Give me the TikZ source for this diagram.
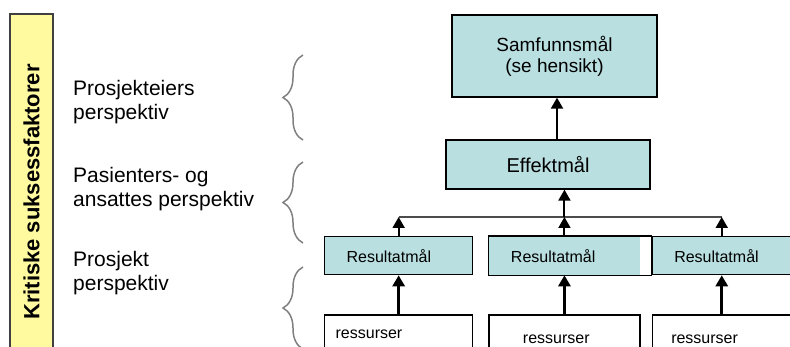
\documentclass[tikz,border=0pt]{standalone}
\usepackage{fontspec}
\setmainfont{Liberation Sans}
\usepackage{xcolor}
\usetikzlibrary{arrows.meta,positioning,decorations.pathreplacing}
\definecolor{goalfill}{RGB}{185,223,225}
\definecolor{barfill}{RGB}{255,250,160}

\begin{document}
\begin{tikzpicture}[x=1pt, y=-1pt, node distance=15pt]
	\tikzstyle{goal}
	  =[draw, line width=1.3pt, fill=goalfill, rectangle, align=center]
	\tikzstyle{result}
	  =[draw, line width=1.3pt, fill=goalfill, rectangle, align=left,
	  minimum height=38pt, inner xsep=22pt, font=\fontsize{16}{19}\selectfont]
	\tikzstyle{source}
	  =[draw, line width=1.3pt, fill=white, rectangle, align=left,
	  inner ysep=6pt, text depth=40pt, font=\fontsize{16}{19}\selectfont]
	\tikzstyle{persp}
	  =[anchor=north west, inner sep=0pt, align=left,
	  font=\fontsize{21}{24}\selectfont]
	\tikzstyle{arr}
	  =[line width=2pt, -{Triangle[length=11pt,width=12pt]}]
	\tikzstyle{brc}
	  =[draw=black!50, line width=1.5pt, decorate,
	  decoration={brace, amplitude=20pt}]

	\useasboundingbox (0,0) rectangle (790,347);

	\node[draw=black!75, line width=1.5pt, fill=barfill, rotate=90,
	  minimum width=356pt, minimum height=43pt,
	  font=\bfseries\fontsize{22}{26}\selectfont] (ksf)
	  at (31.5,192) {Kritiske suksessfaktorer};

	\node[persp] (owner)
	  at (73,80) {Prosjekteiers\\perspektiv};
	\node[persp] (patients)
	  at (73,167) {Pasienters- og\\ansattes perspektiv};
	\node[persp] (project)
	  at (73,251) {Prosjekt\\perspektiv};

	\node[goal, minimum width=205pt, minimum height=82pt,
	  font=\fontsize{19}{21}\selectfont] (samf)
	  at (554.5,56) {Samfunnsmål\\(se hensikt)};
	\node[goal, minimum width=204pt, minimum height=49pt,
	  font=\fontsize{20}{24}\selectfont] (eff)
	  at (548,164.5) {Effektmål};

	\node[result, text width=104pt, anchor=north west] (res1)
	  at (324,236) {Resultatmål};
	\node[result, draw=none, text width=107pt] (res2)
	  [right=15pt of res1] {Resultatmål};
	\node[result, text width=95pt] (res3)
	  [right=11pt of res2] {Resultatmål};
	\draw[line width=1.3pt] (res2.north west) rectangle (res3.south west);

	\node[source, text width=126pt, inner xsep=11pt, text height=18pt] (src1)
	  [below=39pt of res1] {ressurser};
	\node[source, text width=83pt, inner xsep=34pt, text height=23pt] (src2)
	  [below=39pt of res2] {ressurser};
	\node[source, text width=101pt, inner xsep=19pt, text height=23pt] (src3)
	  [below=39pt of res3] {ressurser};

	\coordinate (busy) at (0,217);
	\coordinate (bus1) at (res1.north |- busy);
	\coordinate (bus2) at (res2.north |- busy);
	\coordinate (bus3) at (res3.north |- busy);

	\draw[arr, line width=3pt] (src1.north) -- (res1.south);
	\draw[arr, line width=3pt] (src2.north) -- (res2.south);
	\draw[arr, line width=3pt] (src3.north) -- (res3.south);
	\draw[line width=1.2pt, black!70] (bus1) -- (bus3);
	\draw[arr] (res1.north) -- (bus1);
	\draw[arr] (res2.north) -- (bus2);
	\draw[arr] (res3.north) -- (bus3);
	\draw[arr] (bus2) -- (bus2 |- eff.south);
	\draw[arr] ([xshift=9pt]eff.north) -- ([xshift=9pt]eff.north |- samf.south);

	\coordinate (br1a) at (303,140);
	\coordinate (br1b) at (303,55);
	\coordinate (br2a) at (303,243);
	\coordinate (br2b) at (303,162);
	\coordinate (br3a) at (303,349);
	\coordinate (br3b) at (303,267);
	\draw[brc] (br1a) -- (br1b);
	\draw[brc] (br2a) -- (br2b);
	\draw[brc] (br3a) -- (br3b);
\end{tikzpicture}
\end{document}
